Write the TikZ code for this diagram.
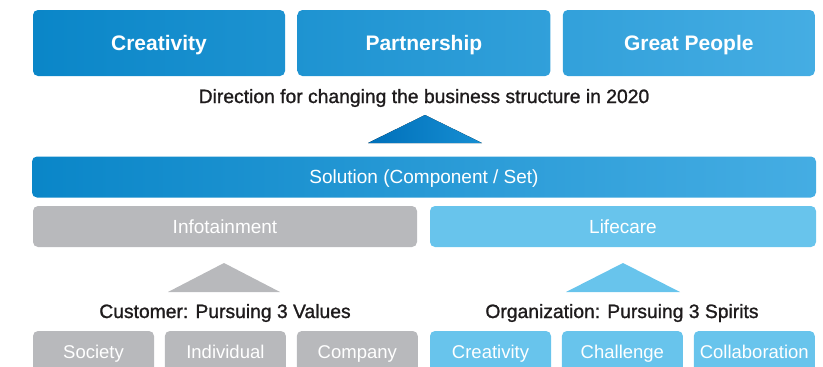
\documentclass[tikz,border=0pt]{standalone}
\usepackage{fontspec}
\setmainfont{Liberation Sans}
\newfontfamily\mediumfont[FakeBold=1.2]{Liberation Sans}
\usetikzlibrary{positioning}
\definecolor{deepblue}{RGB}{10,134,200}
\definecolor{skyblue}{RGB}{69,173,227}
\definecolor{paleblue}{RGB}{104,196,236}
\definecolor{softgray}{RGB}{184,185,188}
\definecolor{inkgray}{RGB}{30,27,28}
\definecolor{arrowblue}{RGB}{0,112,186}
\definecolor{arrowblueb}{RGB}{22,142,210}

\begin{document}
\begin{tikzpicture}[
    x = 1pt, y = -1pt,
    node distance = 12pt,
    topbox/.style = {rounded corners = 5pt, minimum height = 66pt, inner sep = 0pt, text height = 15pt, text depth = 0pt, text = white, font = \fontsize{21}{24}\selectfont\bfseries},
    bar/.style = {rounded corners = 5pt, minimum height = 41pt, inner sep = 0pt, text height = 13.6pt, text depth = 0pt, text = white, font = \fontsize{19}{22}\selectfont},
    subbox/.style = {rounded corners = 5pt, minimum height = 42pt, minimum width = 121pt, inner sep = 0pt, text height = 13.3pt, text depth = 0pt, text = white, font = \fontsize{18.5}{22}\selectfont},
    caption/.style = {anchor = base, inner sep = 0pt, text = inkgray, font = \fontsize{19.3}{22}\mediumfont},
]

\clip (0,0) rectangle (823,367);

% three directions
\node[topbox, minimum width = 252pt, left color = deepblue, right color = skyblue!32!deepblue] (creat) at (159,43) {Creativity};
\node[topbox, minimum width = 253pt, left color = skyblue!34!deepblue, right color = skyblue!66!deepblue, right = of creat] (partner) {Partnership};
\node[topbox, minimum width = 252pt, left color = skyblue!68!deepblue, right color = skyblue, right = of partner] (people) {Great People};

\node[caption] (direction) at (424,103) {Direction for changing the business structure in 2020};
\fill[left color = arrowblue, right color = arrowblueb] (368,143) -- (425,115) -- (482,143) -- cycle;

% solution and business areas
\node[bar, minimum width = 784pt, left color = deepblue, right color = skyblue] (solution) at (424,177) {Solution (Component / Set)};
\node[bar, minimum width = 384pt, fill = softgray] (info) at (225,226.5) {Infotainment};
\node[bar, minimum width = 386pt, fill = paleblue] (life) at (623,226.5) {Lifecare};

\fill[softgray] (168,292) -- (224,263) -- (280,292) -- cycle;
\fill[paleblue] (566,292) -- (623,263) -- (680,292) -- cycle;

\node[caption] (customer) at (225,318) {Customer: Pursuing 3 Values};
\node[caption] (organ) at (622,318) {Organization: Pursuing 3 Spirits};

% values and spirits
\node[subbox, fill = softgray] (society) at (93.5,352) {Society};
\node[subbox, fill = softgray, right = 10.5pt of society] (individual) {Individual};
\node[subbox, fill = softgray, right = 10.5pt of individual] (company) {Company};
\node[subbox, fill = paleblue] (creat2) at (490.5,352) {Creativity};
\node[subbox, fill = paleblue, right = 10.5pt of creat2] (challenge) {Challenge};
\node[subbox, fill = paleblue, right = 10.5pt of challenge] (collab) {Collaboration};

\end{tikzpicture}
\end{document}
